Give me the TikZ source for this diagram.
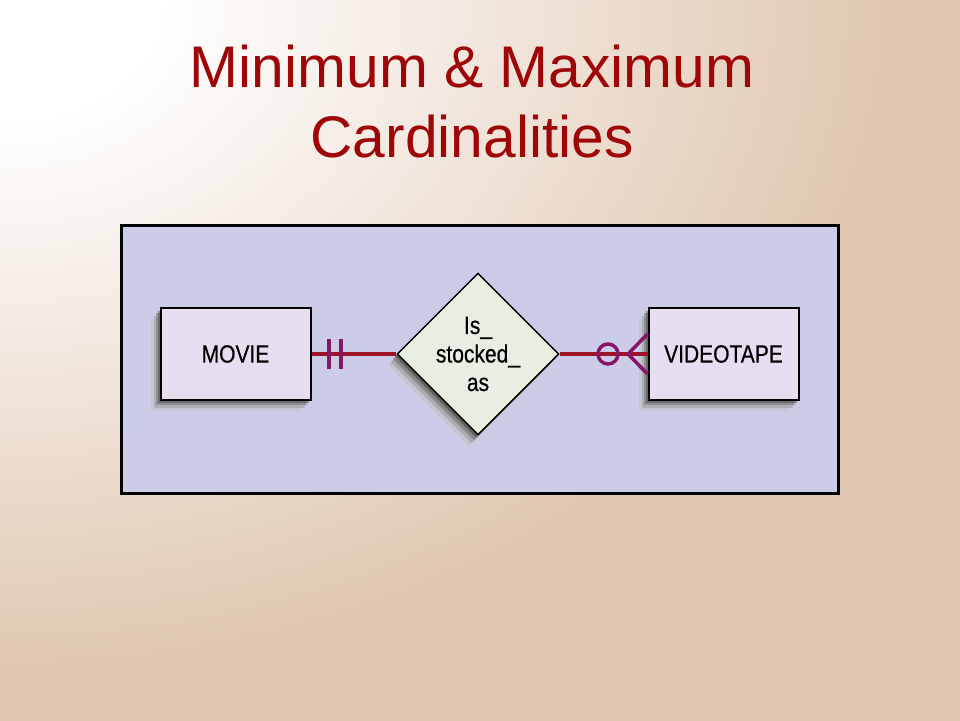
\documentclass[tikz,border=0pt]{standalone}
\usepackage{fontspec}
\setmainfont{Liberation Sans}
\newfontfamily\condfont[FakeStretch=0.84,FakeBold=0.5]{Liberation Sans}
\usetikzlibrary{shapes.geometric}
\definecolor{bgtan}{RGB}{224,199,177}
\definecolor{titlered}{RGB}{158,6,8}
\definecolor{framefill}{RGB}{204,204,232}
\definecolor{entfill}{RGB}{230,222,240}
\definecolor{relfill}{RGB}{232,238,226}
\definecolor{linkred}{RGB}{160,18,40}
\definecolor{markpurple}{RGB}{136,22,104}
\pgfdeclareradialshading{bgshade}{\pgfpoint{0bp}{0bp}}{color(0bp)=(white); color(2.5bp)=(white); color(14bp)=(bgtan); color(50bp)=(bgtan)}
\tikzset{
  titletext/.style={font=\fontsize{58.7}{70}\selectfont, text=titlered, anchor=base, inner sep=0pt},
  entity/.style={draw=black, line width=2pt, fill=entfill, minimum width=150pt, minimum height=92pt, inner sep=0pt, font=\condfont\fontsize{25}{28}\selectfont},
  relation/.style={diamond, draw=black, line width=1.4pt, fill=relfill, minimum width=162pt, minimum height=162pt, inner sep=0pt, align=center, font=\condfont\fontsize{25}{28.5}\selectfont},
  link/.style={draw=linkred, line width=4.5pt},
  markline/.style={draw=markpurple, line width=4pt},
}
\begin{document}
\begin{tikzpicture}[x=1pt, y=-1pt]
\useasboundingbox (0,0) rectangle (960,720);
% background
\fill[bgtan] (0,0) rectangle (960,720);
\begin{scope}
\clip (0,0) rectangle (960,720);
\shade[shading=bgshade] (-1600,-1200) rectangle (1600,1200);
\end{scope}
% frame
\node[draw=black, line width=3pt, fill=framefill, minimum width=717pt, minimum height=268pt, inner sep=0pt] (frame) at (479.5,359) {};
% title
\node[titletext] (t1) at (472,87) {Minimum \& Maximum};
\node[titletext] (t2) at (472,157) {Cardinalities};
% shadows
\foreach \d/\c in {11/25,8/40,5/56,2.5/72}{
  \fill[black!\c, opacity=0.5] (160-0.8*\d,308+\d) rectangle (311-0.8*\d,400+\d);
  \fill[black!\c, opacity=0.5] (648-0.8*\d,308+\d) rectangle (799-0.8*\d,400+\d);
  \fill[black!\c, opacity=0.6] (478-0.8*\d,273+\d) -- (559-0.8*\d,354+\d) -- (478-0.8*\d,435+\d) -- (397-0.8*\d,354+\d) -- cycle;
}
% entities and relationship
\node[entity] (movie) at (235.5,354) {MOVIE};
\node[entity] (tape) at (723.5,354) {VIDEOTAPE};
\node[relation] (rel) at (478,354) {Is\_\\stocked\_\\as};
% connectors
\draw[link] (movie.east) -- (rel.west);
\draw[link] (rel.east) -- (tape.west);
% one and only one
\coordinate (b1) at (329,354);
\coordinate (b2) at (341,354);
\draw[markline] ([yshift=-15pt]b1) -- ([yshift=15pt]b1);
\draw[markline] ([yshift=-15pt]b2) -- ([yshift=15pt]b2);
% zero or many
\coordinate (oc) at (608,354);
\draw[markline, line width=3.5pt] (oc) circle (10);
\coordinate (apex) at (628,354);
\draw[markline, line width=3.5pt] ([yshift=-20pt]tape.west) -- (apex) -- ([yshift=20pt]tape.west);
\end{tikzpicture}
\end{document}
